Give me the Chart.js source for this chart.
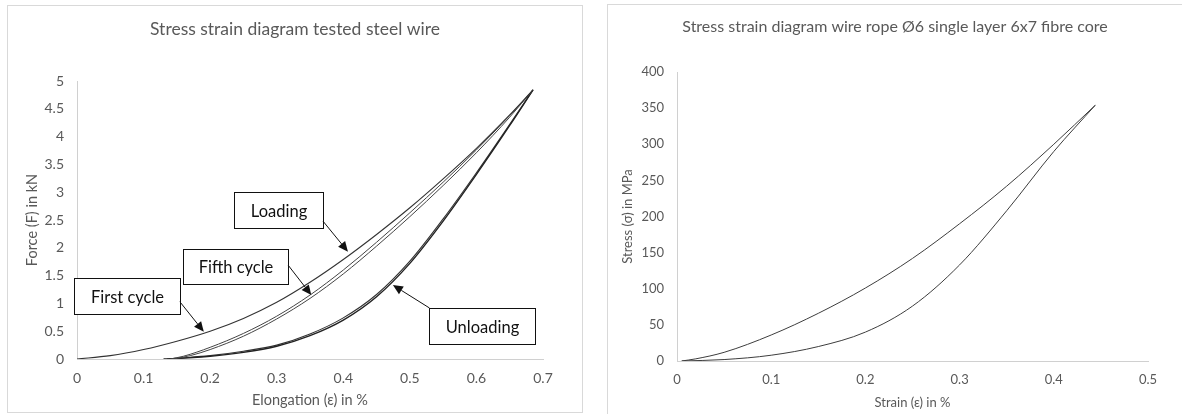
<!DOCTYPE html>
<html>
<head>
<meta charset="utf-8">
<script src="https://cdn.jsdelivr.net/npm/chart.js@4.4.1/dist/chart.umd.min.js"></script>
<style>
  html, body { margin: 0; padding: 0; background: #fff; overflow: hidden; width: 1184px; height: 414px; }
  .frame { position: absolute; box-sizing: border-box; border: 1px solid #d9d9d9; background: #fff; }
  #wireFrame { left: 7px; top: 5px; width: 576px; height: 408px; }
  #ropeFrame { left: 607px; top: 4px; width: 575px; height: 411px; border-right: none; }
  canvas { display: block; }
</style>
</head>
<body>
<div id="wireFrame" class="frame"><canvas id="wireChart" width="574" height="406"></canvas></div>
<div id="ropeFrame" class="frame"><canvas id="ropeChart" width="574" height="409"></canvas></div>
<script>
// ---- tested steel wire: force (kN) against elongation (%) ----
var wireTicksX = [0, 0.1, 0.2, 0.3, 0.4, 0.5, 0.6, 0.7];
var wireTicksY = [0, 0.5, 1, 1.5, 2, 2.5, 3, 3.5, 4, 4.5, 5];

var firstCycleStrain = [0, 0.05, 0.1, 0.15, 0.2, 0.25, 0.3, 0.35, 0.4, 0.45, 0.5, 0.55, 0.6, 0.65, 0.685];
var firstCycleForce  = [0, 0.06, 0.17, 0.32, 0.50, 0.73, 1.02, 1.38, 1.79, 2.24, 2.72, 3.24, 3.79, 4.39, 4.84];

var fifthCycleAStrain = [0.14, 0.16, 0.2, 0.25, 0.3, 0.35, 0.4, 0.45, 0.5, 0.55, 0.6, 0.65, 0.685];
var fifthCycleAForce  = [0, 0.05, 0.21, 0.46, 0.77, 1.15, 1.60, 2.10, 2.63, 3.18, 3.76, 4.38, 4.84];
var fifthCycleBStrain = [0.145, 0.17, 0.2, 0.25, 0.3, 0.35, 0.4, 0.45, 0.5, 0.55, 0.6, 0.65, 0.685];
var fifthCycleBForce  = [0, 0.06, 0.17, 0.41, 0.72, 1.09, 1.53, 2.03, 2.56, 3.12, 3.71, 4.35, 4.84];

var unloadAStrain = [0.13, 0.15, 0.2, 0.25, 0.3, 0.35, 0.4, 0.45, 0.5, 0.55, 0.6, 0.65, 0.685];
var unloadAForce  = [0, 0.01, 0.05, 0.12, 0.23, 0.42, 0.70, 1.12, 1.72, 2.48, 3.32, 4.20, 4.84];
var unloadBStrain = [0.135, 0.16, 0.2, 0.25, 0.3, 0.35, 0.4, 0.45, 0.5, 0.55, 0.6, 0.65, 0.685];
var unloadBForce  = [0, 0.02, 0.06, 0.14, 0.25, 0.45, 0.74, 1.16, 1.76, 2.52, 3.35, 4.22, 4.84];

// ---- wire rope 6x7: stress (MPa) against strain (%) ----
var ropeTicksX = [0, 0.1, 0.2, 0.3, 0.4, 0.5];
var ropeTicksY = [0, 50, 100, 150, 200, 250, 300, 350, 400];

var ropeLoadStrain = [0.005, 0.02, 0.05, 0.1, 0.15, 0.2, 0.25, 0.3, 0.35, 0.4, 0.444];
var ropeLoadStress = [0, 3, 12, 36, 66, 101, 142, 190, 242, 300, 354];
var ropeUnloadStrain = [0.005, 0.05, 0.1, 0.15, 0.2, 0.25, 0.3, 0.35, 0.4, 0.444];
var ropeUnloadStress = [0, 2, 8, 20, 40, 76, 133, 208, 290, 354];

// callouts on the wire chart, box corners and arrow ends in data units
var wireNotes = [
  { text: 'Loading',     box: [0.2355, 3.0, 0.369, 2.356],   from: [0.3695, 2.48], to: [0.407, 1.93] },
  { text: 'Fifth cycle', box: [0.159, 1.978, 0.3165, 1.349], from: [0.317, 1.69],  to: [0.352, 1.15] },
  { text: 'First cycle', box: [-0.0045, 1.457, 0.1545, 0.809], from: [0.1545, 1.03], to: [0.1905, 0.49] },
  { text: 'Unloading',   box: [0.5295, 0.917, 0.6885, 0.27], from: [0.5295, 0.917], to: [0.4745, 1.33] }
];

var FONT = 'Lato, "Open Sans", sans-serif';
var GREY = '#595959';

function pts(xs, ys) {
  return xs.map(function (x, i) { return { x: x, y: ys[i] }; });
}

function curve(label, xs, ys, width, color) {
  return {
    label: label,
    data: pts(xs, ys),
    showLine: true,
    borderColor: color,
    borderWidth: width,
    pointRadius: 0,
    cubicInterpolationMode: 'monotone',
    fill: false
  };
}

// f = {tick, title, pad, fit}
function axis(ticks, title, f, horizontal) {
  return {
    type: 'linear',
    min: ticks[0],
    max: ticks[ticks.length - 1],
    afterBuildTicks: function (s) { s.ticks = ticks.map(function (v) { return { value: v }; }); },
    afterFit: function (s) { if (horizontal) { s.height = f.fit; } else { s.width = f.fit; } },
    grid: { display: false, drawTicks: false },
    border: { display: true, color: '#d0d0d0', width: 1 },
    ticks: {
      padding: f.pad,
      color: GREY,
      autoSkip: false,
      maxRotation: 0,
      font: { family: FONT, size: f.tick, lineHeight: 1.2 },
      callback: function (v) { return String(v); }
    },
    title: {
      display: true,
      text: title,
      color: GREY,
      padding: 0,
      font: { family: FONT, size: f.title, lineHeight: 1.2 }
    }
  };
}

// keep the chart title centred on the whole frame, like the spreadsheet does
var centreTitle = {
  id: 'centreTitle',
  afterLayout: function (chart) {
    if (chart.titleBlock) {
      chart.titleBlock.left = 0;
      chart.titleBlock.right = chart.width;
      chart.titleBlock.width = chart.width;
    }
  }
};

var callouts = {
  id: 'callouts',
  afterDatasetsDraw: function (chart, args, opts) {
    var ctx = chart.ctx, sx = chart.scales.x, sy = chart.scales.y;
    (opts.items || []).forEach(function (n) {
      var x0 = Math.round(sx.getPixelForValue(n.box[0])) + 0.5;
      var y0 = Math.round(sy.getPixelForValue(n.box[1])) + 0.5;
      var x1 = Math.round(sx.getPixelForValue(n.box[2])) + 0.5;
      var y1 = Math.round(sy.getPixelForValue(n.box[3])) + 0.5;
      ctx.save();
      ctx.fillStyle = '#fff';
      ctx.fillRect(x0, y0, x1 - x0, y1 - y0);
      ctx.strokeStyle = '#111';
      ctx.lineWidth = 1;
      ctx.strokeRect(x0, y0, x1 - x0, y1 - y0);
      ctx.fillStyle = '#111';
      ctx.font = '16.5px ' + FONT;
      ctx.textAlign = 'center';
      ctx.textBaseline = 'middle';
      ctx.fillText(n.text, (x0 + x1) / 2, (y0 + y1) / 2 + 1);

      // arrow with a filled head
      var ax = sx.getPixelForValue(n.from[0]), ay = sy.getPixelForValue(n.from[1]);
      var bx = sx.getPixelForValue(n.to[0]), by = sy.getPixelForValue(n.to[1]);
      var ang = Math.atan2(by - ay, bx - ax), head = 10, half = 4.5;
      var hx = bx - head * Math.cos(ang), hy = by - head * Math.sin(ang);
      ctx.beginPath();
      ctx.moveTo(ax, ay);
      ctx.lineTo(hx, hy);
      ctx.stroke();
      ctx.beginPath();
      ctx.moveTo(bx, by);
      ctx.lineTo(hx + half * Math.sin(ang), hy - half * Math.cos(ang));
      ctx.lineTo(hx - half * Math.sin(ang), hy + half * Math.cos(ang));
      ctx.closePath();
      ctx.fill();
      ctx.restore();
    });
  }
};

var wireChart = new Chart(document.getElementById('wireChart'), {
  type: 'scatter',
  data: {
    datasets: [
      curve('First cycle', firstCycleStrain, firstCycleForce, 1.1, '#333'),
      curve('Fifth cycle a', fifthCycleAStrain, fifthCycleAForce, 1, '#444'),
      curve('Fifth cycle b', fifthCycleBStrain, fifthCycleBForce, 1, '#444'),
      curve('Unloading a', unloadAStrain, unloadAForce, 1.4, '#222'),
      curve('Unloading b', unloadBStrain, unloadBForce, 1.1, '#333')
    ]
  },
  options: {
    responsive: false,
    animation: false,
    layout: { padding: { left: 15.3, right: 39, top: 0, bottom: 3.3 } },
    scales: {
      x: axis(wireTicksX, 'Elongation (\u03b5) in %', { tick: 14, title: 14.5, pad: 10.6, fit: 49.7 }, true),
      y: axis(wireTicksY, 'Force (F) in kN', { tick: 14, title: 14.5, pad: 13, fit: 53.7 }, false)
    },
    plugins: {
      legend: { display: false },
      tooltip: { enabled: false },
      title: {
        display: true,
        text: 'Stress strain diagram tested steel wire',
        color: GREY,
        font: { family: FONT, size: 17.5, weight: 'normal', lineHeight: 1.2 },
        padding: { top: 12.5, bottom: 41.5 }
      },
      callouts: { items: wireNotes }
    }
  },
  plugins: [centreTitle, callouts]
});

var ropeChart = new Chart(document.getElementById('ropeChart'), {
  type: 'scatter',
  data: {
    datasets: [
      curve('Loading', ropeLoadStrain, ropeLoadStress, 1, '#3d3d3d'),
      curve('Unloading', ropeUnloadStrain, ropeUnloadStress, 1, '#3d3d3d')
    ]
  },
  options: {
    responsive: false,
    animation: false,
    layout: { padding: { left: 12.2, right: 34, top: 0, bottom: 3.2 } },
    scales: {
      x: axis(ropeTicksX, 'Strain (\u03b5) in %', { tick: 13, title: 13, pad: 11.2, fit: 49.8 }, true),
      y: axis(ropeTicksY, 'Stress (\u03c3) in MPa', { tick: 13, title: 13, pad: 13, fit: 56.8 }, false)
    },
    plugins: {
      legend: { display: false },
      tooltip: { enabled: false },
      title: {
        display: true,
        text: 'Stress strain diagram wire rope \u00d86 single layer 6x7 fibre core',
        color: GREY,
        font: { family: FONT, size: 16, weight: 'normal', lineHeight: 1.2 },
        padding: { top: 12.4, bottom: 35.4 }
      }
    }
  },
  plugins: [centreTitle]
});
</script>
</body>
</html>
